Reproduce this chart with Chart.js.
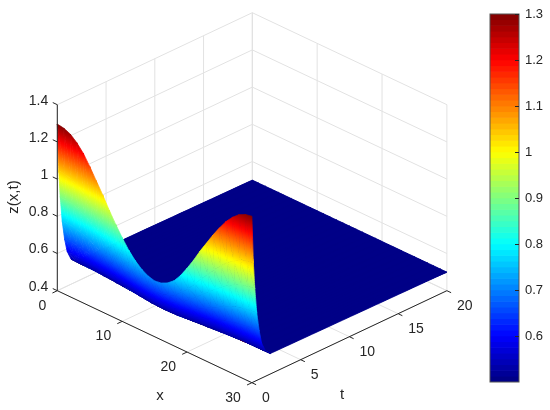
<!DOCTYPE html>
<html>
<head>
<meta charset="utf-8">
<title>z(x,t)</title>
<script src="https://cdn.jsdelivr.net/npm/chart.js@4/dist/chart.umd.min.js"></script>
<style>
  html, body { margin: 0; background: #fff; }
  #wrap { position: relative; width: 550px; height: 410px; overflow: hidden; }
  canvas { position: absolute; top: 0; }
  #surface { left: 0; }
  #bar { left: 470px; }
</style>
</head>
<body>
<div id="wrap">
  <canvas id="surface" width="550" height="410"></canvas>
  <canvas id="bar" width="80" height="410"></canvas>
</div>
<script>
const xTicks = [0, 10, 20, 30];
const tTicks = [0, 5, 10, 15, 20];
const zTicks = [0.4, 0.6, 0.8, 1, 1.2, 1.4];
const barTicks = [0.6, 0.7, 0.8, 0.9, 1, 1.1, 1.2, 1.3];

const xGrid = [0, 1, 2, 3, 4, 5, 6, 7, 8, 9, 10, 11, 12, 13, 14, 15, 16, 17, 18, 19, 20, 21, 22, 23, 24, 25, 26, 27, 28, 29, 30];
const tGrid = [0, 0.15, 0.3, 0.5, 0.75, 1, 1.4, 1.9, 20];

// one row per tGrid entry
const zRow0 = [1.296, 1.29, 1.275, 1.245, 1.205, 1.15, 1.09, 1.03, 0.965, 0.905, 0.85, 0.8, 0.76, 0.73, 0.71, 0.7, 0.705, 0.722, 0.75, 0.795, 0.85, 0.91, 0.975, 1.035, 1.095, 1.15, 1.2, 1.24, 1.27, 1.288, 1.295];
const zRow1 = [1.041, 1.037, 1.027, 1.007, 0.979, 0.942, 0.901, 0.86, 0.816, 0.775, 0.738, 0.704, 0.677, 0.656, 0.643, 0.636, 0.639, 0.651, 0.67, 0.701, 0.738, 0.779, 0.823, 0.864, 0.905, 0.942, 0.976, 1.003, 1.024, 1.036, 1.041];
const zRow2 = [0.898, 0.895, 0.888, 0.873, 0.853, 0.825, 0.795, 0.765, 0.733, 0.703, 0.675, 0.65, 0.63, 0.615, 0.605, 0.6, 0.603, 0.611, 0.625, 0.648, 0.675, 0.705, 0.738, 0.768, 0.798, 0.825, 0.85, 0.87, 0.885, 0.894, 0.898];
const zRow3 = [0.763, 0.761, 0.756, 0.746, 0.733, 0.715, 0.695, 0.675, 0.653, 0.634, 0.616, 0.599, 0.586, 0.576, 0.569, 0.566, 0.568, 0.573, 0.583, 0.597, 0.616, 0.635, 0.657, 0.677, 0.696, 0.715, 0.731, 0.744, 0.754, 0.76, 0.762];
const zRow4 = [0.659, 0.658, 0.655, 0.649, 0.641, 0.63, 0.618, 0.606, 0.593, 0.581, 0.57, 0.56, 0.552, 0.546, 0.542, 0.54, 0.541, 0.544, 0.55, 0.559, 0.57, 0.582, 0.595, 0.607, 0.619, 0.63, 0.64, 0.648, 0.654, 0.658, 0.659];
const zRow5 = [0.588, 0.587, 0.585, 0.582, 0.578, 0.572, 0.565, 0.558, 0.551, 0.545, 0.539, 0.533, 0.529, 0.525, 0.523, 0.522, 0.523, 0.524, 0.528, 0.532, 0.539, 0.545, 0.552, 0.559, 0.565, 0.572, 0.577, 0.581, 0.585, 0.587, 0.587];
const zRow6 = [0.536, 0.536, 0.535, 0.534, 0.532, 0.529, 0.527, 0.524, 0.521, 0.518, 0.516, 0.514, 0.512, 0.51, 0.509, 0.509, 0.509, 0.51, 0.511, 0.513, 0.516, 0.518, 0.521, 0.524, 0.527, 0.529, 0.532, 0.533, 0.535, 0.535, 0.536];
const zRow7 = [0.51, 0.509, 0.509, 0.509, 0.508, 0.508, 0.507, 0.506, 0.506, 0.505, 0.504, 0.504, 0.503, 0.503, 0.503, 0.502, 0.502, 0.503, 0.503, 0.504, 0.504, 0.505, 0.506, 0.506, 0.507, 0.508, 0.508, 0.509, 0.509, 0.509, 0.51];
const zRow8 = [0.5, 0.5, 0.5, 0.5, 0.5, 0.5, 0.5, 0.5, 0.5, 0.5, 0.5, 0.5, 0.5, 0.5, 0.5, 0.5, 0.5, 0.5, 0.5, 0.5, 0.5, 0.5, 0.5, 0.5, 0.5, 0.5, 0.5, 0.5, 0.5, 0.5, 0.5];
const zRows = [zRow0, zRow1, zRow2, zRow3, zRow4, zRow5, zRow6, zRow7, zRow8];

const cMin = 0.5, cMax = 1.3, levels = 64;
const zMin = 0.4, zMax = 1.4;
const INK = "#262626", GRID = "#e2e2e2";
const FAMILY = '"Liberation Sans", Arial, sans-serif';

// fixed view of the box: x runs down-right, t up-right, z straight up
function project(x, t, z) {
  return {
    x: 57.3 + x / 30 * 194.6 + t / 20 * 195,
    y: 290.7 + x / 30 * 92 - t / 20 * 92 - (z - zMin) * 186,
  };
}

function jet(i) {
  const n = 4 * (i + 0.5) / levels;
  const c = v => Math.round(255 * Math.max(0, Math.min(1, v)));
  return `rgb(${c(Math.min(n - 1.5, 4.5 - n))},${c(Math.min(n - 0.5, 3.5 - n))},${c(Math.min(n + 0.5, 2.5 - n))})`;
}

const levelOf = z => Math.max(0, Math.min(levels - 1, Math.floor((z - cMin) / (cMax - cMin) * levels)));

const canvas = document.getElementById("surface");
const ctx = canvas.getContext("2d");

// linear colour across a triangle, so neighbouring triangles meet without a seam
function triPaint(a, b, c, za, zb, zc) {
  if (levelOf(za) === levelOf(zb) && levelOf(zb) === levelOf(zc)) return jet(levelOf(za));
  const ux = b.x - a.x, uy = b.y - a.y, vx = c.x - a.x, vy = c.y - a.y;
  const det = ux * vy - uy * vx;
  const gx = ((zb - za) * vy - (zc - za) * uy) / det;
  const gy = ((zc - za) * ux - (zb - za) * vx) / det;
  const g2 = gx * gx + gy * gy;
  const s = (cMin - za) / g2, e = (cMax - za) / g2;
  const grad = ctx.createLinearGradient(a.x + gx * s, a.y + gy * s, a.x + gx * e, a.y + gy * e);
  for (let i = 0; i < levels; i++) grad.addColorStop((i + 0.5) / levels, jet(i));
  return grad;
}

function triSet(p, q, r) {
  const a = project(...p), b = project(...q), c = project(...r);
  const paint = triPaint(a, b, c, p[2], q[2], r[2]);
  return {
    data: [a, b, c, a],
    fill: "shape",
    backgroundColor: paint,
    borderColor: paint,
    borderWidth: 0.8,
    pointRadius: 0,
    tension: 0.0001,
  };
}

function lineSet(from, to, color) {
  return {
    data: [project(...from), project(...to)],
    borderColor: color,
    borderWidth: 1,
    pointRadius: 0,
    fill: false,
  };
}

const datasets = [];

// first dataset is painted last: axes, then the surface front to back, then the walls
datasets.push(lineSet([0, 0, zMin], [0, 0, zMax], INK));
datasets.push(lineSet([0, 0, zMin], [30, 0, zMin], INK));
datasets.push(lineSet([30, 0, zMin], [30, 20, zMin], INK));
zTicks.forEach(z => datasets.push(lineSet([0, 0, z], [-0.7, 0, z], INK)));
xTicks.forEach(x => datasets.push(lineSet([x, 0, zMin], [x, -0.5, zMin], INK)));
tTicks.forEach(t => datasets.push(lineSet([30, t, zMin], [30.65, t, zMin], INK)));

for (let j = 0; j < tGrid.length - 1; j++) {
  for (let i = xGrid.length - 2; i >= 0; i--) {
    const p00 = [xGrid[i], tGrid[j], zRows[j][i]];
    const p10 = [xGrid[i + 1], tGrid[j], zRows[j][i + 1]];
    const p01 = [xGrid[i], tGrid[j + 1], zRows[j + 1][i]];
    const p11 = [xGrid[i + 1], tGrid[j + 1], zRows[j + 1][i + 1]];
    datasets.push(triSet(p00, p10, p11));
    datasets.push(triSet(p00, p11, p01));
  }
}

// one flat sheet under the far part, the seams of the thin triangles would show the wall through
const lastX = xGrid.length - 1, lastT = tGrid.length - 1, nearT = lastT - 1;
datasets.push({
  data: [
    project(xGrid[0], tGrid[nearT], zRows[nearT][0]),
    project(xGrid[lastX], tGrid[nearT], zRows[nearT][lastX]),
    project(xGrid[lastX], tGrid[lastT], zRows[lastT][lastX]),
    project(xGrid[0], tGrid[lastT], zRows[lastT][0]),
    project(xGrid[0], tGrid[nearT], zRows[nearT][0]),
  ],
  fill: "shape",
  backgroundColor: jet(0),
  borderWidth: 0,
  pointRadius: 0,
  tension: 0.0001,
});

zTicks.forEach(z => {
  datasets.push(lineSet([0, 0, z], [0, 20, z], GRID));
  datasets.push(lineSet([0, 20, z], [30, 20, z], GRID));
});
tTicks.forEach(t => {
  datasets.push(lineSet([0, t, zMin], [0, t, zMax], GRID));
  datasets.push(lineSet([0, t, zMin], [30, t, zMin], GRID));
});
xTicks.forEach(x => {
  datasets.push(lineSet([x, 20, zMin], [x, 20, zMax], GRID));
  datasets.push(lineSet([x, 0, zMin], [x, 20, zMin], GRID));
});

const boxLabels = {
  id: "boxLabels",
  afterDraw(chart) {
    const c = chart.ctx;
    const sx = chart.scales.x, sy = chart.scales.y;
    const put = (txt, px, py, align) => {
      c.textAlign = align;
      c.fillText(txt, sx.getPixelForValue(px), sy.getPixelForValue(py));
    };
    c.save();
    c.font = "14px " + FAMILY;
    c.fillStyle = INK;
    c.textBaseline = "middle";
    zTicks.forEach(z => {
      const p = project(0, 0, z);
      put(String(z), p.x - 9, p.y - 4, "right");
    });
    xTicks.forEach(x => {
      const p = project(x, 0, zMin);
      put(String(x), p.x - 11, p.y + 15, "right");
    });
    tTicks.forEach(t => {
      const p = project(30, t, zMin);
      put(String(t), p.x + 10, p.y + 15, "left");
    });
    c.font = "15px " + FAMILY;
    put("x", 160, 396, "center");
    put("t", 342, 395, "center");
    c.translate(sx.getPixelForValue(14), sy.getPixelForValue(197));
    c.rotate(-Math.PI / 2);
    c.textAlign = "center";
    c.fillText("z(x,t)", 0, 0);
    c.restore();
  },
};

new Chart(ctx, {
  type: "line",
  data: { datasets },
  options: {
    responsive: false,
    animation: false,
    devicePixelRatio: 1,
    layout: { padding: 0 },
    plugins: { legend: { display: false }, tooltip: { enabled: false } },
    scales: {
      x: { type: "linear", display: false, min: 0, max: 550 },
      y: { type: "linear", display: false, min: 0, max: 410, reverse: true },
    },
  },
  plugins: [boxLabels],
});

// colorbar
const barSets = [];
for (let i = levels - 1; i >= 0; i--) {
  barSets.push({
    data: [[cMin + (cMax - cMin) * i / levels, cMin + (cMax - cMin) * (i + 1) / levels]],
    backgroundColor: jet(i),
    borderWidth: 0,
    grouped: false,
    barPercentage: 1,
    categoryPercentage: 1,
  });
}

const barFrame = {
  id: "barFrame",
  afterDraw(chart) {
    const c = chart.ctx, a = chart.chartArea, y = chart.scales.y;
    c.save();
    c.strokeStyle = "#555";
    c.lineWidth = 1;
    c.strokeRect(a.left, a.top, a.right - a.left, a.bottom - a.top);
    c.strokeStyle = INK;
    barTicks.forEach(v => {
      const py = Math.round(y.getPixelForValue(v)) + 0.5;
      c.beginPath();
      c.moveTo(a.right - 4, py);
      c.lineTo(a.right, py);
      c.stroke();
    });
    c.restore();
  },
};

new Chart(document.getElementById("bar"), {
  type: "bar",
  data: { labels: [""], datasets: barSets },
  options: {
    responsive: false,
    animation: false,
    devicePixelRatio: 1,
    layout: { padding: { left: 20, top: 14, bottom: 28, right: 0 } },
    plugins: { legend: { display: false }, tooltip: { enabled: false } },
    scales: {
      x: { display: false },
      y: {
        position: "right",
        min: cMin,
        max: cMax,
        afterFit: s => { s.width = 31; },
        afterBuildTicks: s => { s.ticks = barTicks.map(value => ({ value })); },
        grid: { display: false, drawTicks: false },
        border: { display: false },
        ticks: {
          color: INK,
          padding: 6,
          autoSkip: false,
          maxRotation: 0,
          font: { family: FAMILY, size: 13 },
          callback: v => String(v),
        },
      },
    },
  },
  plugins: [barFrame],
});
</script>
</body>
</html>
